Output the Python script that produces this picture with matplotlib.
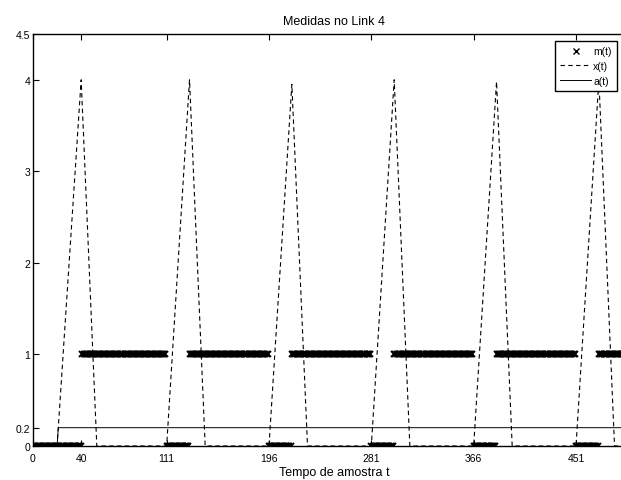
import matplotlib
matplotlib.use("Agg")
import numpy as np
import matplotlib.pyplot as plt

plt.rcParams['font.family'] = ['Liberation Sans', 'DejaVu Sans']

# m(t): runs of (first sample, last sample, level)
m_runs = [(0, 40, 0), (41, 110, 1), (111, 129, 0), (130, 195, 1),
          (196, 214, 0), (215, 280, 1), (281, 299, 0), (300, 365, 1),
          (366, 384, 0), (385, 450, 1), (451, 469, 0), (470, 500, 1)]

# x(t): breakpoints of the dashed curve
x_t = [0, 20, 40, 53, 111, 130, 143, 196, 215, 228, 281, 300, 313,
       366, 385, 398, 451, 470, 483, 500]
x_val = [0, 0, 4.0, 0, 0, 4.0, 0, 0, 3.95, 0, 0, 4.0, 0,
         0, 3.98, 0, 0, 4.0, 0, 0]

# a(t): breakpoints of the solid curve
a_t = [0, 20, 21, 500]
a_val = [0, 0, 0.2, 0.2]

xticks = [0, 40, 111, 196, 281, 366, 451]
yticks = [0, 0.2, 1, 2, 3, 4, 4.5]

m_t = []
m_val = []
for start, end, level in m_runs:
    for t in range(start, end + 1):
        m_t.append(t)
        m_val.append(level)

fig = plt.figure(figsize=(6.21, 4.81), dpi=100, facecolor='white')
ax = fig.add_axes([33 / 621, 34 / 481, 602 / 621, 412 / 481])

ax.plot(m_t, m_val, 'x', color='k', markersize=3.8, markeredgewidth=1.4,
        snap=False, label='m(t)')
ax.plot(x_t, x_val, '--', color='k', linewidth=0.8, dashes=(4, 3), label='x(t)')
ax.plot(a_t, a_val, '-', color='k', linewidth=0.7, label='a(t)')

ax.set_xlim(0, 500)
ax.set_ylim(0, 4.5)
ax.set_xticks(xticks)
ax.set_xticklabels([str(v) for v in xticks])
ax.set_yticks(yticks)
ax.set_yticklabels(['0', '0.2', '1', '2', '3', '4', '4.5'])
ax.tick_params(direction='in', length=4, width=0.8, labelsize=7.5,
               top=True, right=True)
ax.tick_params(axis='x', pad=5)
ax.tick_params(axis='y', pad=2)

for s in ax.spines.values():
    s.set_linewidth(1.0)

ax.set_title('Medidas no Link 4', fontsize=9, pad=7)
ax.set_xlabel('Tempo de amostra t', fontsize=9, labelpad=2)

leg = ax.legend(loc='upper right', bbox_to_anchor=(617 / 621, 1 - 42 / 481),
                bbox_transform=fig.transFigure, borderaxespad=0,
                fontsize=7.5, handlelength=3.0, handletextpad=0.2,
                labelspacing=0.45, borderpad=0.5, fancybox=False,
                framealpha=1, edgecolor='k', markerfirst=True)
leg.get_frame().set_linewidth(1.0)
for h in leg.legend_handles:
    h.set_markeredgewidth(1.0)

fig.savefig('out.png', dpi=100)
